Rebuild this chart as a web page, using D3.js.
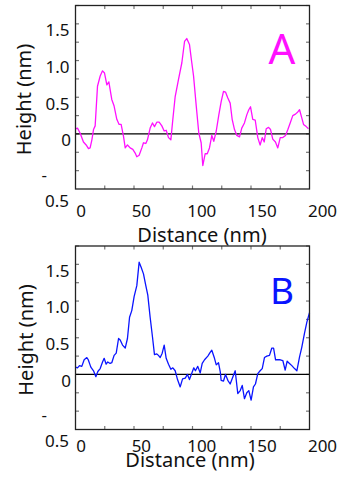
<!DOCTYPE html>
<html>
<head>
<meta charset="utf-8">
<script src="https://cdn.jsdelivr.net/npm/d3@7"></script>
<style>
  html, body { margin: 0; padding: 0; background: #fff; }
  svg { display: block; font-family: "Noto Sans", "Open Sans", sans-serif; }
</style>
</head>
<body>
<div id="chart"></div>
<script>
// profile A (magenta)
const distanceA = [0, 1.7, 4, 6.8, 9.1, 11.1, 12.5, 14, 15.4, 16.8, 18.8, 21.1, 23.1, 24.8, 26.8, 28.5, 31, 33, 35.3, 37.3,
  39, 41, 42.5, 44.4, 46.7, 49, 51, 52.4, 54.4, 56.7, 58.1, 60.1, 61.5, 63.8, 65.8, 67.5, 69.5, 71.5, 73.8, 75.8,
  77.5, 79.5, 81.5, 83.2, 85.2, 88, 90.9, 93.2, 95.1, 97.4, 99.4, 100.9, 103.2, 105.4, 107.4, 108.8, 110.8, 112.6, 114.5, 116.5,
  118.2, 120.3, 122.5, 124.5, 126.5, 128.2, 130.2, 132.2, 133.9, 135.9, 137.9, 140.2, 142.1, 144.4, 146.4, 148.1, 149.6, 151.5, 153.6, 155.8,
  157.8, 159.6, 161.3, 163, 165, 166.7, 168.6, 170.9, 172.9, 175, 177.2, 179.5, 181.5, 183.5, 185.7, 188, 190, 191.5, 193.4, 194.9,
  197.2, 199.1];
const heightA = [0.07, 0.08, 0.01, -0.11, -0.15, -0.2, -0.19, -0.08, 0.06, 0.11, 0.65, 0.79, 0.86, 0.83, 0.67, 0.71, 0.47, 0.38, 0.2, 0.13,
  0.13, -0.03, -0.19, -0.15, -0.19, -0.21, -0.26, -0.31, -0.29, -0.19, -0.12, -0.13, -0.08, 0.08, 0.15, 0.1, 0.16, 0.16, 0.11, 0.04,
  0.05, -0.05, -0.08, 0.2, 0.51, 0.74, 0.97, 1.26, 1.3, 1.22, 0.97, 0.79, 0.38, 0.01, -0.12, -0.43, -0.27, -0.27, -0.19, -0.02,
  -0.1, 0.04, 0.26, 0.44, 0.58, 0.57, 0.49, 0.42, 0.2, 0.06, -0.02, -0.04, 0.08, 0.15, 0.26, 0.33, 0.37, 0.2, 0.19, -0.05,
  -0.15, -0.05, -0.11, 0.07, 0.09, 0.06, -0.07, -0.11, -0.19, -0.05, -0.05, -0.02, 0.06, 0.15, 0.25, 0.27, 0.3, 0.33, 0.22, 0.13,
  0.1, 0.07];

// profile B (blue)
const distanceB = [0, 1.7, 3.4, 5.4, 7.4, 9.7, 10.9, 13.1, 15.4, 17.4, 19.1, 21.1, 23.1, 24.5, 26.2, 27.6, 29.6, 31, 33, 34.8,
  36.8, 38.2, 40.2, 42.5, 44.4, 46.2, 48.1, 50.1, 52.4, 54.4, 56.1, 58.1, 60.1, 61.8, 63.8, 65.8, 67.5, 69.5, 70.9, 72.4,
  74.1, 75.8, 77.5, 79.5, 81.5, 83.2, 85.2, 87.2, 89.5, 91.5, 93.8, 95.7, 97.4, 99.7, 101.1, 102.5, 104.5, 106.6, 108.3, 110.3,
  113.1, 115.1, 116.5, 118.8, 120.3, 122.2, 123.7, 124.5, 126.5, 128.2, 130.2, 132.2, 133.9, 136.5, 138.7, 140.8, 142.5, 144.4, 146.4, 148.1,
  150.1, 152.1, 153.8, 155.8, 157.8, 159.6, 161.5, 163.5, 165.8, 167.8, 169.3, 171, 173, 175, 177.2, 179.2, 180.9, 182.9, 184.9, 187.2,
  189.2, 191.5, 193.4, 195.7, 197.7, 200];
const heightB = [0.1, 0.09, 0.12, 0.11, 0.2, 0.23, 0.2, 0.1, 0.05, -0.03, 0.04, 0.08, 0.17, 0.22, 0.14, 0.17, 0.15, 0.16, 0.26, 0.29,
  0.49, 0.47, 0.4, 0.36, 0.49, 0.78, 0.87, 1.06, 1.21, 1.53, 1.46, 1.37, 1.21, 1.08, 0.78, 0.51, 0.27, 0.28, 0.26, 0.23,
  0.29, 0.4, 0.22, 0.14, 0.07, 0.09, 0.05, -0.07, -0.17, -0.06, -0.05, 0, -0.07, 0.03, 0.09, 0.05, 0.11, 0.02, 0.15, 0.2,
  0.25, 0.3, 0.33, 0.22, 0.13, 0.16, 0.04, -0.08, -0.09, 0, -0.08, -0.13, -0.06, 0.05, -0.26, -0.22, -0.15, -0.33, -0.25, -0.22,
  -0.35, -0.17, -0.13, 0.01, 0.05, 0.08, 0.23, 0.25, 0.26, 0.36, 0.36, 0.2, 0.2, 0.2, 0.19, 0.06, 0.18, 0.15, 0.12, 0.08,
  0.05, 0.24, 0.37, 0.56, 0.71, 0.84];

// tick labels
const xTickValues = [0, 50, 100, 150, 200];
const xTickLabels = ["0", "50", "100", "150", "200"];
const yTickValues = [1.5, 1.0, 0.5, 0, -0.5];
const yTickLabels = ["1.5", "1.0", "0.5", "0", "-0.5"];

const W = 341, H = 479;
const svg = d3.select('#chart').append('svg')
  .attr('width', W)
  .attr('height', H);

function drawPanel(opt) {
  const left = 75.5, right = 309.5;
  const top = opt.top, bottom = opt.top + 183.5;

  const x = d3.scaleLinear().domain([0, 200]).range([left, right]);
  const y = d3.scaleLinear().domain([-0.75, 1.75]).range([bottom, top]);
  // tick labels in the original sit a little right of their ticks
  const xLab = d3.scaleLinear().domain([0, 200]).range([81, 322.5]);

  const g = svg.append('g');

  // minor ticks, all pointing inwards
  const xTicks = d3.range(25, 200, 25);
  const yTicks = d3.range(-0.5, 1.751, 0.25);
  g.append('g').selectAll('line').data(xTicks).join('line')
    .attr('x1', d => x(d)).attr('x2', d => x(d))
    .attr('y1', bottom).attr('y2', bottom - 3.5)
    .attr('stroke', '#777').attr('stroke-width', 1.2);
  g.append('g').selectAll('line').data(xTicks).join('line')
    .attr('x1', d => x(d)).attr('x2', d => x(d))
    .attr('y1', top).attr('y2', top + 3.5)
    .attr('stroke', '#777').attr('stroke-width', 1.2);
  g.append('g').selectAll('line').data(yTicks).join('line')
    .attr('x1', left).attr('x2', left + 3.5)
    .attr('y1', d => y(d)).attr('y2', d => y(d))
    .attr('stroke', '#777').attr('stroke-width', 1.2);
  g.append('g').selectAll('line').data(yTicks).join('line')
    .attr('x1', right).attr('x2', right - 3.5)
    .attr('y1', d => y(d)).attr('y2', d => y(d))
    .attr('stroke', '#777').attr('stroke-width', 1.2);

  // zero line
  g.append('line')
    .attr('x1', left).attr('x2', right)
    .attr('y1', y(0)).attr('y2', y(0))
    .attr('stroke', '#000').attr('stroke-width', 1.2);

  // profile
  const pts = opt.dist.map((d, i) => [d, opt.height[i]]);
  g.append('path')
    .datum(pts)
    .attr('fill', 'none')
    .attr('stroke', opt.color)
    .attr('stroke-width', 1.3)
    .attr('stroke-linejoin', 'round')
    .attr('d', d3.line().x(d => x(d[0])).y(d => y(d[1])));

  // frame
  g.append('rect')
    .attr('x', left).attr('y', top)
    .attr('width', right - left).attr('height', bottom - top)
    .attr('fill', 'none')
    .attr('stroke', '#222').attr('stroke-width', 1.3);

  // x tick labels
  g.append('g').selectAll('text').data(xTickValues).join('text')
    .attr('x', d => xLab(d))
    .attr('y', bottom + opt.xLabOff)
    .attr('text-anchor', 'middle')
    .attr('font-size', 17)
    .attr('fill', '#111')
    .text((d, i) => xTickLabels[i]);

  // y tick labels (the negative one is broken into "-" and "0.5" like the source)
  yTickValues.forEach((v, i) => {
    const lab = yTickLabels[i];
    if (lab.startsWith('-')) {
      g.append('text')
        .attr('x', 41.5).attr('y', y(v) + 10)
        .attr('font-size', 17).attr('fill', '#111')
        .text('-');
      g.append('text')
        .attr('x', 69).attr('y', bottom + 17.5)
        .attr('text-anchor', 'end')
        .attr('font-size', 17).attr('fill', '#111')
        .text(lab.slice(1));
    } else {
      g.append('text')
        .attr('x', v === 0 ? 71 : 69.5).attr('y', y(v) + 12.3)
        .attr('text-anchor', 'end')
        .attr('font-size', 17).attr('fill', '#111')
        .text(lab);
    }
  });

  // axis titles
  g.append('text')
    .attr('x', opt.xTitleX).attr('y', bottom + opt.xTitleOff)
    .attr('text-anchor', 'middle')
    .attr('font-size', 20).attr('fill', '#111')
    .text('Distance (nm)');
  g.append('text')
    .attr('transform', `translate(${opt.yTitleX},${top + 94}) rotate(-90)`)
    .attr('text-anchor', 'middle')
    .attr('font-size', 20).attr('fill', '#111')
    .text('Height (nm)');

  // panel letter
  g.append('text')
    .attr('x', opt.letterX).attr('y', top + opt.letterY)
    .attr('font-size', opt.letterSize)
    .attr('fill', opt.color)
    .text(opt.letter);
}

drawPanel({
  top: 5.5, dist: distanceA, height: heightA, color: '#ff10ff',
  letter: 'A', letterX: 268.5, letterY: 58, letterSize: 42,
  xLabOff: 28, xTitleX: 202, xTitleOff: 52.5, yTitleX: 31
});

drawPanel({
  top: 246, dist: distanceB, height: heightB, color: '#0a14ff',
  letter: 'B', letterX: 270, letterY: 58, letterSize: 37,
  xLabOff: 22.5, xTitleX: 190, xTitleOff: 37.5, yTitleX: 33
});
</script>
</body>
</html>
